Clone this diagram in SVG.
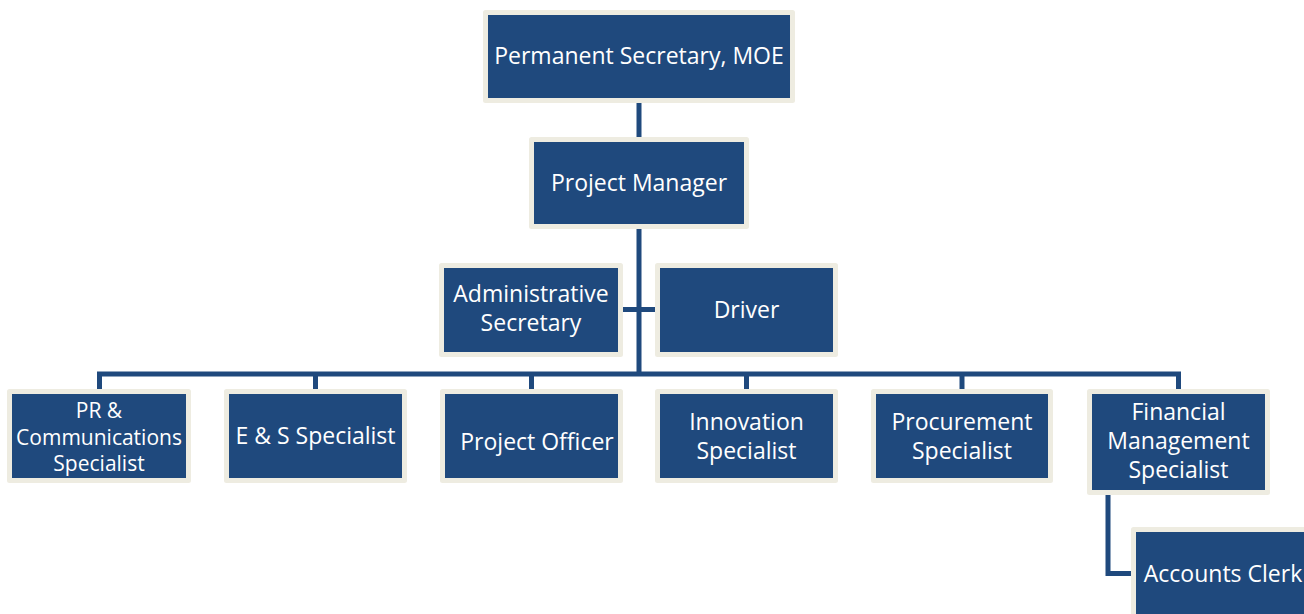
<svg xmlns="http://www.w3.org/2000/svg" width="1304" height="614" viewBox="0 0 1304 614">
<style>
.box{fill:#1F497D;stroke:#EEECE1;stroke-width:5;stroke-linejoin:round}
.t{font-family:"Open Sans","Noto Sans",sans-serif;font-size:23px;fill:#FFFFFF;text-anchor:middle}
.s{font-size:21px}
.ln{stroke:#1F497D;stroke-width:5;fill:none}
</style>
<rect width="1304" height="614" fill="#FFFFFF"/>
<g id="connectors">
<line class="ln" x1="639" y1="103" x2="639" y2="137"/>
<line class="ln" x1="639" y1="229" x2="639" y2="376"/>
<line class="ln" x1="623" y1="309.5" x2="655" y2="309.5"/>
<polyline class="ln" points="99.5,389 99.5,374 1178.5,374 1178.5,389"/>
<line class="ln" x1="315.5" y1="374" x2="315.5" y2="389"/>
<line class="ln" x1="531.5" y1="374" x2="531.5" y2="389"/>
<line class="ln" x1="746.5" y1="374" x2="746.5" y2="389"/>
<line class="ln" x1="962" y1="374" x2="962" y2="389"/>
<polyline class="ln" points="1108,495 1108,573.5 1131,573.5"/>
</g>
<g id="n-ps"><rect class="box" x="485.5" y="12.5" width="307" height="88"/><text class="t" x="639" y="64">Permanent Secretary, MOE</text></g>
<g id="n-pm"><rect class="box" x="531.5" y="139.5" width="215" height="87"/><text class="t" x="639" y="191">Project Manager</text></g>
<g id="n-admin"><rect class="box" x="441.5" y="265.5" width="179" height="89"/><text class="t" x="531" y="302">Administrative</text><text class="t" x="531" y="331">Secretary</text></g>
<g id="n-driver"><rect class="box" x="657.5" y="265.5" width="178" height="89"/><text class="t" x="746.5" y="318">Driver</text></g>
<g id="n-pr"><rect class="box" x="9.5" y="391.5" width="179" height="89"/><text class="t s" x="99" y="418">PR &amp;</text><text class="t s" x="99" y="445">Communications</text><text class="t s" x="99" y="471">Specialist</text></g>
<g id="n-es"><rect class="box" x="226.5" y="391.5" width="178" height="89"/><text class="t" x="315.5" y="444">E &amp; S Specialist</text></g>
<g id="n-po"><rect class="box" x="442.5" y="391.5" width="178" height="89"/><text class="t" x="537" y="450">Project Officer</text></g>
<g id="n-innov"><rect class="box" x="657.5" y="391.5" width="178" height="89"/><text class="t" x="746.5" y="430">Innovation</text><text class="t" x="746.5" y="459">Specialist</text></g>
<g id="n-proc"><rect class="box" x="873.5" y="391.5" width="177" height="89"/><text class="t" x="962" y="430">Procurement</text><text class="t" x="962" y="459">Specialist</text></g>
<g id="n-fin"><rect class="box" x="1089.5" y="391.5" width="178" height="101"/><text class="t" x="1178.5" y="420">Financial</text><text class="t" x="1178.5" y="449">Management</text><text class="t" x="1178.5" y="478">Specialist</text></g>
<g id="n-acc"><rect class="box" x="1133.5" y="529.5" width="179" height="92"/><text class="t" x="1223" y="582">Accounts Clerk</text></g>
</svg>
